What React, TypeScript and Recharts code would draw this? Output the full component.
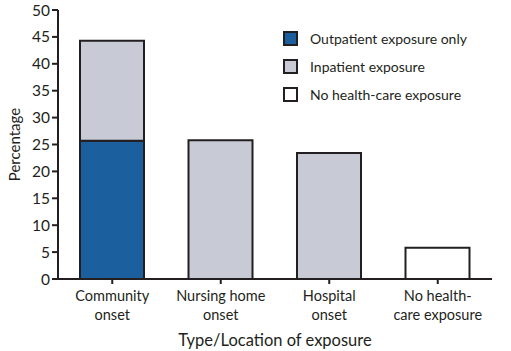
import React from 'react';
import { BarChart, Bar, XAxis, YAxis } from 'recharts';

const categories = ['Community\nonset', 'Nursing home\nonset', 'Hospital\nonset', 'No health-\ncare exposure'];
const outpatient = [25.7, 0, 0, 0];
const inpatient = [18.6, 25.8, 23.4, 0];
const noHealthCare = [0, 0, 0, 5.8];
const yTicks = [0, 5, 10, 15, 20, 25, 30, 35, 40, 45, 50];

const SERIES = [
  { key: 'Outpatient exposure only', values: outpatient, color: '#1b5f9e' },
  { key: 'Inpatient exposure', values: inpatient, color: '#c8cad6' },
  { key: 'No health-care exposure', values: noHealthCare, color: '#ffffff' },
];

const INK = '#231f20';
const FONT = 'Lato, "Open Sans", sans-serif';

const data = categories.map((name, i) => {
  const row: Record<string, unknown> = { name };
  SERIES.forEach((s) => {
    row[s.key] = s.values[i];
  });
  return row;
});

function CategoryTick(props: any) {
  const { x, y, payload } = props;
  const lines = String(payload.value).split('\n');
  return (
    <g transform={`translate(${x},${y})`}>
      {lines.map((line, i) => (
        <text key={i} x={0} y={15 + i * 19} textAnchor="middle" fill={INK} fontSize={14.5} fontFamily={FONT}>
          {line}
        </text>
      ))}
    </g>
  );
}

function LegendBox() {
  return (
    <div style={{ position: 'absolute', left: 283, top: 24, fontFamily: FONT, fontSize: 14, color: INK }}>
      {SERIES.map((s) => (
        <div key={s.key} style={{ display: 'flex', alignItems: 'center', height: 28 }}>
          <span
            style={{
              width: 11,
              height: 11,
              background: s.color,
              border: `2px solid ${INK}`,
              marginRight: 12,
              display: 'inline-block',
            }}
          />
          <span>{s.key}</span>
        </div>
      ))}
    </div>
  );
}

export default function App() {
  return (
    <div style={{ position: 'absolute', left: 0, top: 0, width: 511, height: 351, background: '#fff' }}>
      <BarChart width={511} height={351} data={data} margin={{ top: 10, right: 19, left: 18, bottom: 22 }}>
        <XAxis
          dataKey="name"
          interval={0}
          tick={<CategoryTick />}
          tickLine={{ stroke: INK, strokeWidth: 2 }}
          tickSize={5}
          axisLine={{ stroke: INK, strokeWidth: 2 }}
          height={50}
          label={{ value: 'Type/Location of exposure', position: 'insideBottom', offset: -17, fill: INK, fontSize: 16.5, fontFamily: FONT }}
        />
        <XAxis xAxisId="top" dataKey="name" orientation="top" tick={false} tickLine={false} height={0} axisLine={{ stroke: INK, strokeWidth: 2 }} />
        <YAxis
          domain={[0, 50]}
          ticks={yTicks}
          interval={0}
          tick={{ fill: INK, fontSize: 15.5, fontFamily: FONT }}
          tickLine={{ stroke: INK, strokeWidth: 2 }}
          tickSize={6}
          axisLine={{ stroke: INK, strokeWidth: 2 }}
          width={40}
          label={{ value: 'Percentage', angle: -90, position: 'insideLeft', offset: -3, fill: INK, fontSize: 15, fontFamily: FONT, style: { textAnchor: 'middle' } }}
        />
        <YAxis yAxisId="right" orientation="right" domain={[0, 50]} tick={false} tickLine={false} width={0} axisLine={{ stroke: INK, strokeWidth: 2 }} />
        {SERIES.map((s) => (
          <Bar
            key={s.key}
            dataKey={s.key}
            stackId="a"
            fill={s.color}
            stroke={INK}
            strokeWidth={2}
            barSize={64}
            isAnimationActive={false}
          />
        ))}
      </BarChart>
      <LegendBox />
    </div>
  );
}
